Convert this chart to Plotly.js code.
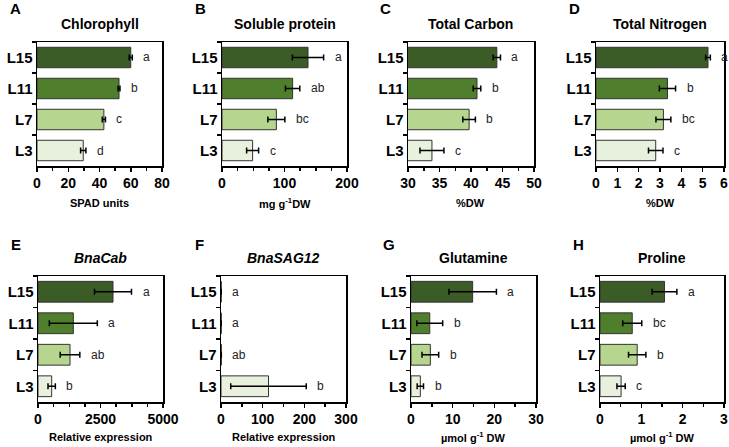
<!DOCTYPE html>
<html>
<head>
<meta charset="utf-8">
<script src="https://cdn.plot.ly/plotly-3.0.1.min.js"></script>
<style>
  body { margin: 0; background: #fff; }
  #chart { width: 729px; height: 447px; }
</style>
</head>
<body>
<div id="chart"></div>
<script>
// lines, top to bottom
var lines = ["L15", "L11", "L7", "L3"];
var lineColors = ["#3c5c27", "#4f7e2d", "#b6d58f", "#e8f1de"];

// A - Chlorophyll (SPAD units)
var chlorophyll = [60, 52.5, 42.8, 29.6];
var chlorophyllErr = [1.0, 0.6, 1.0, 1.7];
var chlorophyllSig = ["a", "b", "c", "d"];

// B - Soluble protein (mg g-1 DW)
var protein = [137.6, 113, 87, 49];
var proteinErr = [25, 11.5, 13.6, 9.6];
var proteinSig = ["a", "ab", "bc", "c"];

// C - Total carbon (%DW)
var carbon = [44.1, 40.95, 39.7, 33.8];
var carbonErr = [0.58, 0.6, 1.0, 1.9];
var carbonSig = ["a", "b", "b", "c"];

// D - Total nitrogen (%DW)
var nitrogen = [5.25, 3.35, 3.16, 2.8];
var nitrogenErr = [0.11, 0.38, 0.35, 0.34];
var nitrogenSig = ["a", "b", "bc", "c"];

// E - BnaCab (relative expression)
var bnaCab = [3000, 1413, 1280, 547];
var bnaCabErr = [740, 960, 393, 147];
var bnaCabSig = ["a", "a", "ab", "b"];

// F - BnaSAG12 (relative expression)
var bnaSag = [0.4, 0.4, 0.8, 114];
var bnaSagErr = [0, 0, 0, 90.6];
var bnaSagSig = ["a", "a", "ab", "b"];

// G - Glutamine (umol g-1 DW)
var glutamine = [14.8, 4.5, 4.64, 2.24];
var glutamineErr = [5.7, 3.1, 2.0, 0.76];
var glutamineSig = ["a", "b", "b", "b"];

// H - Proline (umol g-1 DW)
var proline = [1.56, 0.78, 0.90, 0.51];
var prolineErr = [0.30, 0.23, 0.21, 0.10];
var prolineSig = ["a", "bc", "b", "c"];

var panels = [
  {letter: "A", title: "Chlorophyll", unit: "SPAD units", v: chlorophyll, e: chlorophyllErr, s: chlorophyllSig, range: [0, 80], dtick: 20, minor: 10},
  {letter: "B", title: "Soluble protein", unit: "mg g<sup>-1</sup>DW", v: protein, e: proteinErr, s: proteinSig, range: [0, 200], dtick: 100, minor: 25},
  {letter: "C", title: "Total Carbon", unit: "%DW", v: carbon, e: carbonErr, s: carbonSig, range: [30, 50], dtick: 5, minor: 2.5},
  {letter: "D", title: "Total Nitrogen", unit: "%DW", v: nitrogen, e: nitrogenErr, s: nitrogenSig, range: [0, 6], dtick: 1, minor: 1},
  {letter: "E", title: "<i>BnaCab</i>", unit: "Relative expression", v: bnaCab, e: bnaCabErr, s: bnaCabSig, range: [0, 5000], dtick: 2500, minor: 625},
  {letter: "F", title: "<i>BnaSAG12</i>", unit: "Relative expression", v: bnaSag, e: bnaSagErr, s: bnaSagSig, range: [0, 300], dtick: 100, minor: 50},
  {letter: "G", title: "Glutamine", unit: "µmol g<sup>-1</sup> DW", v: glutamine, e: glutamineErr, s: glutamineSig, range: [0, 30], dtick: 10, minor: 5},
  {letter: "H", title: "Proline", unit: "µmol g<sup>-1</sup> DW", v: proline, e: prolineErr, s: prolineSig, range: [0, 3], dtick: 1, minor: 0.5}
];

// plot boxes in pixels [left, right, top, bottom]
var boxes = [
  [37, 162, 42, 166], [222, 347, 42, 166], [408, 534, 42, 166], [596, 724, 42, 166],
  [38, 163, 276, 402], [221, 346, 276, 402], [411, 536, 276, 402], [600, 724, 276, 402]
];
var W = 729, H = 447;
var font = "Arial, 'Liberation Sans', sans-serif";

var data = [];
var layout = {
  width: W, height: H,
  margin: {l: 0, r: 0, t: 0, b: 0},
  paper_bgcolor: "#fff",
  plot_bgcolor: "#fff",
  showlegend: false,
  bargap: 0.34,
  font: {family: font, color: "#000"},
  annotations: []
};

panels.forEach(function(p, i) {
  var n = i + 1;
  var xa = "x" + (n > 1 ? n : "");
  var ya = "y" + (n > 1 ? n : "");
  var b = boxes[i];
  var bottomRow = i >= 4;

  data.push({
    type: "bar",
    orientation: "h",
    x: p.v,
    y: lines,
    xaxis: xa,
    yaxis: ya,
    marker: {color: lineColors, line: {color: "#333", width: 1}},
    error_x: {type: "data", array: p.e, visible: true, color: "#000", thickness: 1.5, width: 3},
    hoverinfo: "none"
  });

  layout["xaxis" + (n > 1 ? n : "")] = {
    domain: [b[0] / W, b[1] / W],
    anchor: ya,
    range: p.range,
    dtick: p.dtick,
    tick0: p.range[0],
    ticks: "outside",
    ticklen: 4,
    tickwidth: 1.5,
    tickcolor: "#000",
    minor: {dtick: p.minor, tick0: p.range[0], ticks: "outside", ticklen: 3, tickwidth: 1.5, tickcolor: "#000"},
    showline: true,
    linecolor: "#000",
    linewidth: 1.5,
    mirror: true,
    showgrid: false,
    zeroline: false,
    fixedrange: true,
    tickfont: {family: font, size: 14, color: "#000", weight: "bold"}
  };
  layout["yaxis" + (n > 1 ? n : "")] = {
    domain: [1 - b[3] / H, 1 - b[2] / H],
    anchor: xa,
    type: "category",
    autorange: "reversed",
    tickson: "boundaries",
    ticks: "outside",
    ticklen: 4,
    tickwidth: 1.5,
    tickcolor: "#000",
    showline: true,
    linecolor: "#000",
    linewidth: 1.5,
    mirror: true,
    showgrid: false,
    zeroline: false,
    fixedrange: true,
    tickfont: {family: font, size: 15, color: "#000", weight: "bold"}
  };

  var cx = (b[0] + b[1]) / 2 / W;
  // panel letter
  layout.annotations.push({
    xref: "paper", yref: "paper",
    x: (b[0] - 22) / W, y: 1 - (bottomRow ? 245 : 9) / H,
    text: "<b>" + p.letter + "</b>", showarrow: false,
    xanchor: "center", yanchor: "middle",
    font: {family: font, size: 15, color: "#000"}
  });
  // panel title
  layout.annotations.push({
    xref: "paper", yref: "paper",
    x: cx, y: 1 - (bottomRow ? 258 : 24) / H,
    text: "<b>" + p.title + "</b>", showarrow: false,
    xanchor: "center", yanchor: "middle",
    font: {family: font, size: 14, color: "#000"}
  });
  // axis title
  layout.annotations.push({
    xref: "paper", yref: "paper",
    x: cx, y: 1 - (bottomRow ? 437 : 203) / H,
    text: "<b>" + p.unit + "</b>", showarrow: false,
    xanchor: "center", yanchor: "middle",
    font: {family: font, size: 11, color: "#000"}
  });
  // significance letters
  p.s.forEach(function(sig, j) {
    layout.annotations.push({
      xref: xa, yref: ya,
      x: p.v[j] + p.e[j], y: lines[j],
      text: sig, showarrow: false,
      xanchor: "left", yanchor: "middle", xshift: 9,
      font: {family: font, size: 12, color: "#222"}
    });
  });
});

Plotly.newPlot("chart", data, layout, {displayModeBar: false, staticPlot: true});
</script>
</body>
</html>
